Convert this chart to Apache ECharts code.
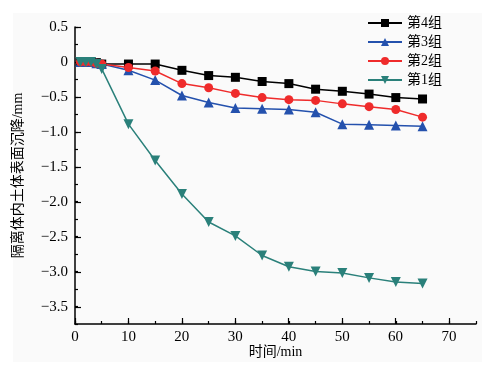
<!DOCTYPE html>
<html>
<head>
<meta charset="utf-8">
<script src="https://cdn.jsdelivr.net/npm/echarts@6/dist/echarts.min.js"></script>
<style>html,body{margin:0;padding:0;background:#fff}#c{width:486px;height:367px}</style>
</head>
<body>
<div id="c"></div>
<script>
// ---- data ----
const times = [1, 2, 3, 4, 5, 10, 15, 20, 25, 30, 35, 40, 45, 50, 55, 60, 65];
const group4 = [0, 0, 0, -0.01, -0.03, -0.03, -0.03, -0.12, -0.195, -0.22, -0.28, -0.31, -0.39, -0.42, -0.46, -0.51, -0.53];
const group3 = [0, 0, 0, -0.02, -0.03, -0.12, -0.26, -0.48, -0.58, -0.66, -0.67, -0.68, -0.72, -0.89, -0.90, -0.91, -0.92];
const group2 = [0, 0, 0, -0.02, -0.03, -0.08, -0.13, -0.31, -0.37, -0.45, -0.51, -0.54, -0.55, -0.60, -0.64, -0.68, -0.79];
const group1 = [0, 0, 0, -0.03, -0.10, -0.89, -1.41, -1.89, -2.29, -2.49, -2.77, -2.93, -3.00, -3.02, -3.09, -3.15, -3.17];
const seriesNames = ['第4组', '第3组', '第2组', '第1组'];
const xTickLabels = [0, 10, 20, 30, 40, 50, 60, 70];
const yTickLabels = [0.5, 0, -0.5, -1.0, -1.5, -2.0, -2.5, -3.0, -3.5];
const xName = '时间/min';
const yName = '隔离体内土体表面沉降/mm';

const FONT = '"Liberation Serif", "Noto Sans CJK SC", serif';
const pair = arr => times.map((t, i) => [t, arr[i]]);
const fmtY = v => (Math.abs(v) < 1e-9 ? '0' : v.toFixed(1).replace('-', '\u2212'));

const chart = echarts.init(document.getElementById('c'), null, {renderer: 'canvas'});
const lineAx = {show: true, onZero: false, lineStyle: {color: '#000', width: 1.5}};
chart.setOption({
  backgroundColor: '#ffffff',
  animation: false,
  graphic: [{type: 'rect', z: -10, silent: true, shape: {x: 13, y: 13, width: 469, height: 349},
             style: {fill: '#fafafa'}}],
  legend: {
    orient: 'vertical', left: 367, top: 16, padding: 0, itemWidth: 34, itemHeight: 10, itemGap: 5,
    data: seriesNames,
    textStyle: {fontFamily: FONT, fontSize: 14, color: '#000', lineHeight: 14}
  },
  grid: [
    {left: 75, right: 10, top: 27, bottom: 43},
    {left: 75, right: 10, top: 27, bottom: 60},
    {left: 75, right: 37, top: 27, bottom: 43}
  ],
  xAxis: [
    {gridIndex: 0, type: 'value', min: 0, max: 75, interval: 5,
     axisLine: lineAx, axisTick: {inside: true, length: 3, lineStyle: {color: '#000', width: 1.2}},
     axisLabel: {show: false}, splitLine: {show: false},
     name: xName, nameLocation: 'middle', nameGap: 21,
     nameTextStyle: {fontFamily: FONT, fontSize: 14, color: '#000'}},
    {gridIndex: 1, type: 'value', min: 0, max: 75, show: false},
    {gridIndex: 2, type: 'value', min: 0, max: 70, interval: 10, position: 'bottom',
     axisLine: {show: false, onZero: false}, axisTick: {inside: true, length: 6, lineStyle: {color: '#000', width: 1.2}},
     axisLabel: {margin: 6, fontFamily: FONT, fontSize: 15, color: '#000',
       formatter: v => (xTickLabels.includes(v) ? String(v) : '')},
     splitLine: {show: false}}
  ],
  yAxis: [
    {gridIndex: 0, type: 'value', min: -3.75, max: 0.5, interval: 0.25,
     axisLine: lineAx, axisTick: {inside: true, length: 3, lineStyle: {color: '#000', width: 1.2}},
     axisLabel: {show: false}, splitLine: {show: false},
     name: yName, nameLocation: 'middle', nameGap: 50, nameRotate: 90,
     nameTextStyle: {fontFamily: FONT, fontSize: 14, color: '#000'}},
    {gridIndex: 1, type: 'value', min: -3.5, max: 0.5, interval: 0.5, position: 'left',
     axisLine: {show: false, onZero: false}, axisTick: {inside: true, length: 6, lineStyle: {color: '#000', width: 1.2}},
     axisLabel: {margin: 7, fontFamily: FONT, fontSize: 15, color: '#000',
       formatter: v => (yTickLabels.some(t => Math.abs(t - v) < 1e-9) ? fmtY(v) : '')},
     splitLine: {show: false}},
    {gridIndex: 2, type: 'value', min: -3.75, max: 0.5, show: false}
  ],
  series: [
    {name: seriesNames[0], type: 'line', data: pair(group4), symbol: 'rect', symbolSize: 9,
     color: '#000000', lineStyle: {width: 1.5}, itemStyle: {color: '#000000'}},
    {name: seriesNames[1], type: 'line', data: pair(group3), symbol: 'triangle', symbolSize: 10,
     color: '#2451ad', lineStyle: {width: 1.5}, itemStyle: {color: '#2451ad'}},
    {name: seriesNames[2], type: 'line', data: pair(group2), symbol: 'circle', symbolSize: 9,
     color: '#ef2b2b', lineStyle: {width: 1.5}, itemStyle: {color: '#ef2b2b'}},
    {name: seriesNames[3], type: 'line', data: pair(group1), symbol: 'triangle', symbolRotate: 180, symbolSize: 10,
     color: '#2a807a', lineStyle: {width: 1.5}, itemStyle: {color: '#2a807a'}}
  ]
});
</script>
</body>
</html>
